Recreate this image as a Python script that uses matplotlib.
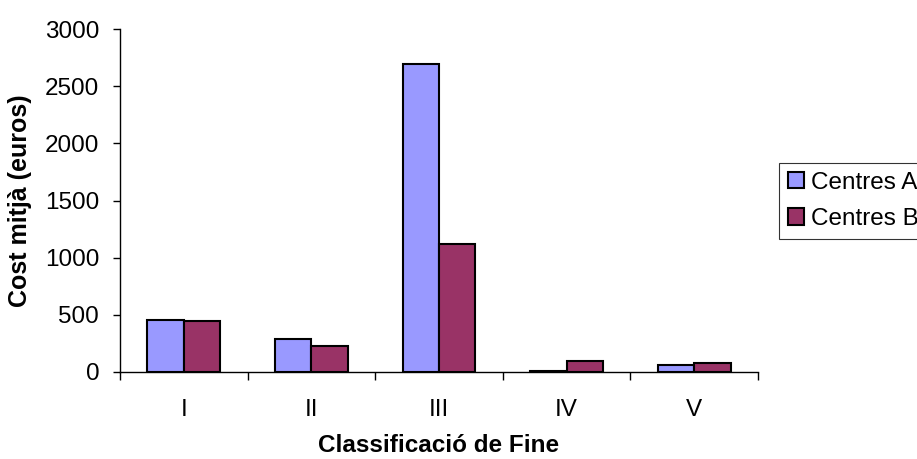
import matplotlib
matplotlib.use("Agg")
import matplotlib.pyplot as plt
import numpy as np

categories = ["I", "II", "III", "IV", "V"]
centres_a = [453, 287, 2694, 12, 58]
centres_b = [445, 228, 1118, 96, 78]
series_names = ["Centres A", "Centres B"]

plt.rcParams["font.family"] = ["Liberation Sans", "DejaVu Sans"]

W, H = 917, 459
fig = plt.figure(figsize=(W / 100, H / 100), dpi=100)
ax = fig.add_axes([120 / W, 1 - 372 / H, (758 - 120) / W, (372 - 29) / H])

x = np.arange(len(categories))
bw = 1 / 3.5
ax.bar(x - bw / 2, centres_a, bw, color="#9999FF", edgecolor="black",
       linewidth=1.5, label=series_names[0])
ax.bar(x + bw / 2, centres_b, bw, color="#993366", edgecolor="black",
       linewidth=1.5, label=series_names[1])

ax.set_xlim(-0.5, len(categories) - 0.5)
ax.set_ylim(0, 3000)
ax.set_yticks(np.arange(0, 3001, 500))

ax.set_xticks(x)
ax.set_xticklabels(categories)
ax.set_xticks(np.arange(-0.5, len(categories)), minor=True)
ax.tick_params(axis="x", which="major", length=0, pad=19.5, labelsize=17.5)
ax.tick_params(axis="x", which="minor", length=6, width=1, direction="out")
ax.tick_params(axis="y", length=5, width=1, direction="out", pad=10, labelsize=17.5)

for side in ["top", "right"]:
    ax.spines[side].set_visible(False)
ax.spines["left"].set_linewidth(1)
ax.spines["bottom"].set_linewidth(1)

ax.set_xlabel("Classificació de Fine", fontsize=17.5, fontweight="bold", labelpad=9)
ax.set_ylabel("Cost mitjà (euros)", fontsize=18, fontweight="bold", labelpad=9)

leg = fig.legend(loc="upper left", bbox_to_anchor=(779 / W, 1 - 163 / H),
                 frameon=True, fancybox=False, edgecolor="black", fontsize=17.5,
                 handlelength=0.66, handleheight=0.66, handletextpad=0.3,
                 borderpad=0.35, labelspacing=0.6, borderaxespad=0)
leg.get_frame().set_linewidth(0.8)

fig.savefig("out.png", dpi=100)
